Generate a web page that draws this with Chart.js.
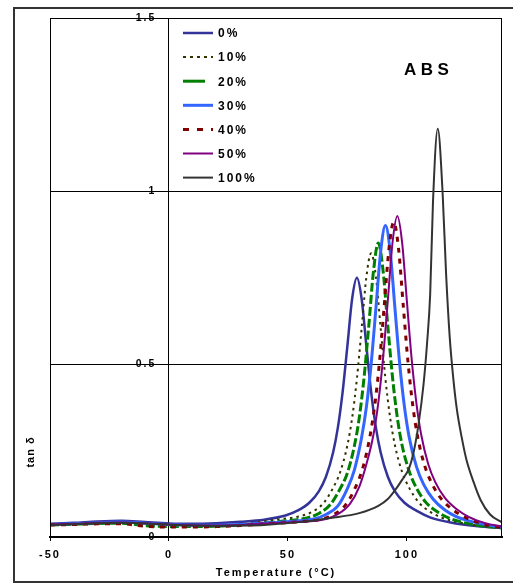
<!DOCTYPE html>
<html><head><meta charset="utf-8">
<script src="https://cdn.jsdelivr.net/npm/chart.js@4/dist/chart.umd.min.js"></script>
<style>html,body{margin:0;padding:0;background:#fff;overflow:hidden}canvas{display:block}</style>
</head><body>
<canvas id="c" width="513" height="587"></canvas>
<script>
// ---- data ----
const seriesNames = ['0%', '10%', '20%', '30%', '40%', '50%', '100%'];
const xTickValues = [-50, 0, 50, 100];
const yTickValues = [0, 0.5, 1, 1.5];

const temp0 = [-50,-40,-30,-20,-10,0,10,20,30,40,49,54,59,63,66,69,71,73,75,77,79,81,83,85,87,89,92,95,99,104,110,120,130,140];
const tan0  = [.038,.041,.045,.047,.043,.039,.038,.040,.044,.050,.062,.076,.099,.132,.174,.244,.316,.419,.552,.688,.749,.688,.552,.419,.316,.244,.174,.132,.099,.076,.056,.040,.031,.026];

const temp10 = [-50,-40,-30,-20,-10,0,10,20,30,45,55,60,65,69,72,75,77,79,81,83,85,87,89,91,93,95,98,101,105,110,115,125,140];
const tan10  = [.036,.038,.041,.043,.040,.036,.034,.034,.037,.050,.060,.072,.098,.142,.188,.265,.344,.457,.603,.752,.82,.752,.603,.457,.344,.265,.188,.142,.10,.072,.055,.038,.027];

const temp20 = [-50,-40,-30,-20,-10,0,10,20,30,40,48,58,63,68,72,75,78,80,82,84,86,88,90,92,94,96,98,101,104,108,113,118,128,140];
const tan20  = [.035,.037,.039,.040,.033,.030,.030,.031,.035,.040,.046,.055,.068,.095,.14,.185,.265,.345,.46,.61,.77,.85,.77,.61,.46,.345,.265,.19,.142,.10,.072,.054,.036,.026];

const temp30 = [-50,-40,-30,-20,-10,0,10,20,30,40,51,61,66,71,75,78,81,83,85,87,89,91,93,95,97,99,101,104,107,111,116,121,130,140];
const tan30  = [.036,.038,.041,.043,.040,.036,.034,.034,.036,.040,.045,.052,.065,.09,.14,.195,.288,.376,.50,.661,.825,.90,.825,.661,.50,.376,.288,.204,.153,.11,.078,.058,.04,.028];

const temp40 = [-50,-40,-30,-20,-10,0,10,20,30,40,54.5,64.5,69.5,74.5,78.5,81.5,84.5,86.5,88.5,90.5,92.5,94.5,96.5,98.5,100.5,102.5,104.5,107.5,110.5,114.5,119.5,125,132,140];
const tan40  = [.035,.036,.038,.038,.031,.029,.029,.030,.033,.038,.044,.052,.066,.095,.145,.20,.291,.38,.505,.668,.834,.91,.834,.668,.505,.38,.291,.206,.155,.11,.078,.055,.038,.027];

const temp50 = [-50,-40,-30,-20,-10,0,10,20,30,40,56,66,71,76,80,83,86,88,90,92,94,96,98,100,102,104,106,109,112,116,121,126,133,140];
const tan50  = [.036,.038,.041,.042,.040,.036,.034,.033,.035,.039,.044,.052,.066,.095,.145,.21,.297,.388,.516,.683,.852,.928,.852,.683,.516,.388,.297,.21,.158,.113,.08,.058,.04,.03];

const temp100 = [-50,-40,-30,-20,-10,0,10,20,30,40,55,68,80,88,92,95,98,101,103,105,107,108.5,109.8,111,113,115,116.5,118,119.5,121,123,125,128,131,135,140];
const tan100  = [.035,.037,.040,.041,.039,.036,.033,.032,.033,.035,.043,.055,.069,.09,.11,.135,.165,.20,.25,.33,.44,.56,.70,.97,1.18,1.0,.76,.58,.46,.37,.29,.225,.16,.107,.065,.042];

// ---- styles ----
const seriesTemps = [temp0, temp10, temp20, temp30, temp40, temp50, temp100];
const seriesTans = [tan0, tan10, tan20, tan30, tan40, tan50, tan100];
const colors = ['#333399', '#333300', '#008000', '#3366FF', '#800000', '#800080', '#333333'];
const widths = [2.5, 2, 3, 3, 3, 2, 2];
const dashes = [[], [2.5, 4], [9, 3], [], [5, 6], [], []];
const legendDashes = [[], [3, 4], [], [], [6, 8], [], []];
const legendEnds = [213, 213, 205, 213, 213, 213, 213];
const FONT = '"Liberation Sans", Arial, sans-serif';

const datasets = seriesNames.map((name, i) => ({
  label: name,
  data: seriesTemps[i].map((t, k) => ({x: t, y: seriesTans[i][k]})),
  borderColor: colors[i],
  backgroundColor: colors[i],
  borderWidth: widths[i],
  borderDash: dashes[i],
  pointRadius: 0,
  fill: false,
  cubicInterpolationMode: 'monotone',
  order: seriesNames.length - i
}));

const decor = {
  id: 'decor',
  beforeDraw(chart) {
    const ctx = chart.ctx;
    ctx.save();
    ctx.fillStyle = '#fff';
    ctx.fillRect(0, 0, chart.width, chart.height);
    ctx.restore();
    ctx.letterSpacing = '2px';
  },
  afterDraw(chart) {
    const ctx = chart.ctx, a = chart.chartArea;
    ctx.save();
    // outer frame
    ctx.setLineDash([]);
    ctx.strokeStyle = '#333';
    ctx.lineWidth = 2;
    ctx.strokeRect(14, 8, 530, 574);
    // plot frame
    ctx.strokeStyle = '#000';
    ctx.lineWidth = 1;
    ctx.strokeRect(Math.round(a.left) + 0.5, Math.round(a.top) + 0.5, Math.round(a.right - a.left) - 1, Math.round(a.bottom - a.top));
    // ABS label
    ctx.fillStyle = '#000';
    ctx.letterSpacing = '4.5px';
    ctx.font = 'bold 17px ' + FONT;
    ctx.textAlign = 'left';
    ctx.textBaseline = 'middle';
    ctx.fillText('ABS', 404, 70);
    // y title
    ctx.letterSpacing = '1px';
    ctx.font = 'bold 11px ' + FONT;
    ctx.save();
    ctx.translate(31, 452);
    ctx.rotate(-Math.PI / 2);
    ctx.textAlign = 'center';
    ctx.fillText('tan δ', 0, 0);
    ctx.restore();
    // legend
    ctx.letterSpacing = '2px';
    ctx.font = 'bold 12px ' + FONT;
    seriesNames.forEach((name, i) => {
      const y = 33 + i * 24.1;
      ctx.beginPath();
      ctx.setLineDash(legendDashes[i]);
      ctx.strokeStyle = colors[i];
      ctx.lineWidth = widths[i];
      ctx.moveTo(183, y);
      ctx.lineTo(legendEnds[i], y);
      ctx.stroke();
      ctx.setLineDash([]);
      ctx.fillStyle = '#000';
      ctx.textAlign = 'left';
      ctx.textBaseline = 'middle';
      ctx.fillText(name, 218, y + 1);
    });
    ctx.restore();
  }
};

new Chart(document.getElementById('c'), {
  type: 'line',
  data: {datasets},
  plugins: [decor],
  options: {
    responsive: false,
    animation: false,
    events: [],
    layout: {padding: {left: 50, right: 11, top: 18, bottom: 5}},
    plugins: {legend: {display: false}, tooltip: {enabled: false}},
    scales: {
      x: {
        type: 'linear',
        position: 'bottom',
        min: -50, max: 140,
        afterFit(s) { s.height = 45; },
        afterBuildTicks(s) { s.ticks = xTickValues.map(v => ({value: v})); },
        grid: {display: true, drawOnChartArea: false, drawTicks: true, tickLength: 4, color: '#000', lineWidth: 1},
        border: {display: true, color: '#000', width: 2},
        ticks: {color: '#000', font: {family: FONT, size: 11, weight: 'bold'}, padding: 7, maxRotation: 0, autoSkip: false},
        title: {display: true, text: 'Temperature (°C)', color: '#000', font: {family: FONT, size: 11, weight: 'bold'}, padding: {top: 0, bottom: 2}}
      },
      y: {
        type: 'linear',
        position: {x: 0},
        min: 0, max: 1.5,
        afterBuildTicks(s) { s.ticks = yTickValues.map(v => ({value: v})); },
        grid: {display: true, drawOnChartArea: true, drawTicks: true, tickLength: 4, color: '#000', lineWidth: 1},
        border: {display: true, color: '#000', width: 1},
        ticks: {color: '#000', font: {family: FONT, size: 10.5, weight: 'bold'}, padding: 10, autoSkip: false,
          callback: v => String(v) + '  \u200A'}
      }
    }
  }
});
</script>
</body></html>
